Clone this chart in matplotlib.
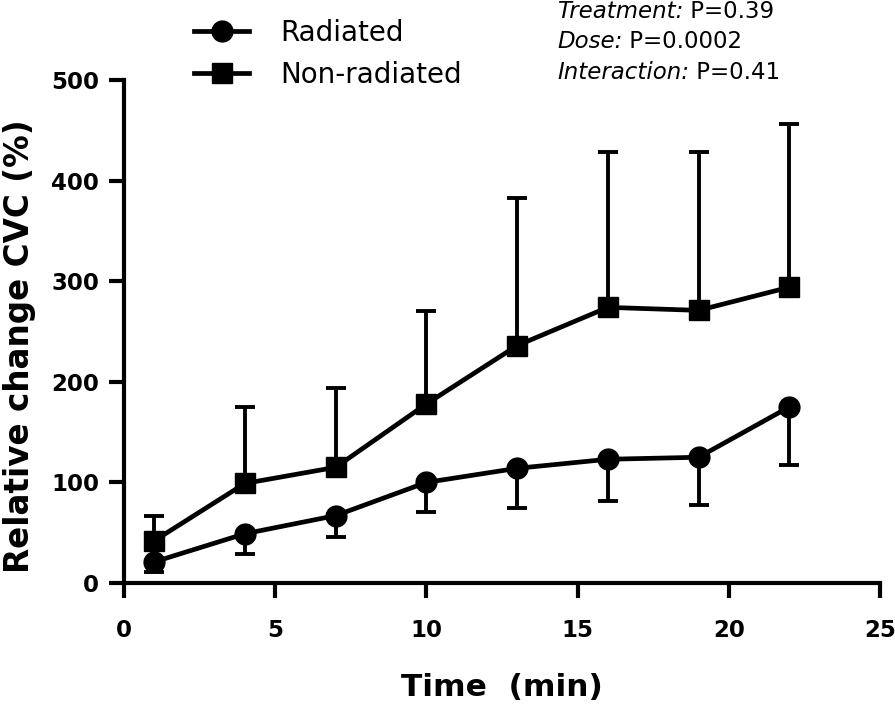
import numpy as np
import matplotlib
matplotlib.use("Agg")
import matplotlib.pyplot as plt
from matplotlib.lines import Line2D

# data
time_min = [1, 4, 7, 10, 13, 16, 19, 22]
radiated = [21, 49, 67, 100, 114, 123, 125, 175]
radiated_err_low = [10, 20, 21, 29, 39, 41, 47, 58]
nonrad = [42, 99, 115, 178, 236, 274, 271, 294]
nonrad_err_up = [25, 76, 79, 92, 147, 154, 157, 162]

stat_labels = ["Treatment:", "Dose:", "Interaction:"]
stat_values = [" P=0.39", " P=0.0002", " P=0.41"]

plt.rcParams['font.family'] = ['DejaVu Sans']

px = 1 / 100
fig = plt.figure(figsize=(895 * px, 706 * px), dpi=100)
ax = fig.add_axes([124 / 895, 1 - 583 / 706, (880 - 124) / 895, (583 - 80) / 706])

lw = 3.4
zeros = np.zeros(len(time_min))
ax.errorbar(time_min, nonrad, yerr=[zeros, nonrad_err_up], color='black', lw=lw,
            marker='s', markersize=15, elinewidth=2.8, capsize=7.5, capthick=2.8,
            zorder=3)
ax.errorbar(time_min, radiated, yerr=[radiated_err_low, zeros], color='black', lw=lw,
            marker='o', markersize=15, elinewidth=2.8, capsize=7.5, capthick=2.8,
            zorder=3)

ax.set_xlim(0, 25)
ax.set_ylim(0, 500)
ax.set_xticks([0, 5, 10, 15, 20, 25])
ax.set_yticks([0, 100, 200, 300, 400, 500])
for s in ['top', 'right']:
    ax.spines[s].set_visible(False)
for s in ['left', 'bottom']:
    ax.spines[s].set_linewidth(3.0)
ax.tick_params(axis='both', direction='out', length=11, width=3.0, labelsize=16.5)
ax.tick_params(axis='x', pad=15)
ax.tick_params(axis='y', pad=7)
for lab in ax.get_xticklabels() + ax.get_yticklabels():
    lab.set_fontweight('bold')

ax.set_xlabel('Time  (min)', fontsize=22.5, fontweight='bold', labelpad=22)
ax.set_ylabel('Relative change CVC (%)', fontsize=23.5, fontweight='bold')
ax.yaxis.set_label_coords(-0.117, 0.47)

# legend
handles = [Line2D([], [], color='black', lw=lw, marker='o', markersize=15),
           Line2D([], [], color='black', lw=lw, marker='s', markersize=15)]
fig.legend(handles, ['Radiated', 'Non-radiated'], loc='upper left',
           bbox_to_anchor=(180 / 895, 1 - 5 / 706), frameon=False, fontsize=20,
           borderpad=0, handlelength=2.0, handletextpad=1.1, labelspacing=0.5)

# stats text
ys = [18, 48, 79]
for lab, val, y in zip(stat_labels, stat_values, ys):
    t = fig.text(557 / 895, 1 - y / 706, lab, fontsize=16.5, style='italic',
                 va='baseline', ha='left')
    ax.annotate(val, xy=(1, 0), xycoords=t, va='bottom', ha='left', fontsize=16.5)

fig.savefig('out.png', dpi=100)
